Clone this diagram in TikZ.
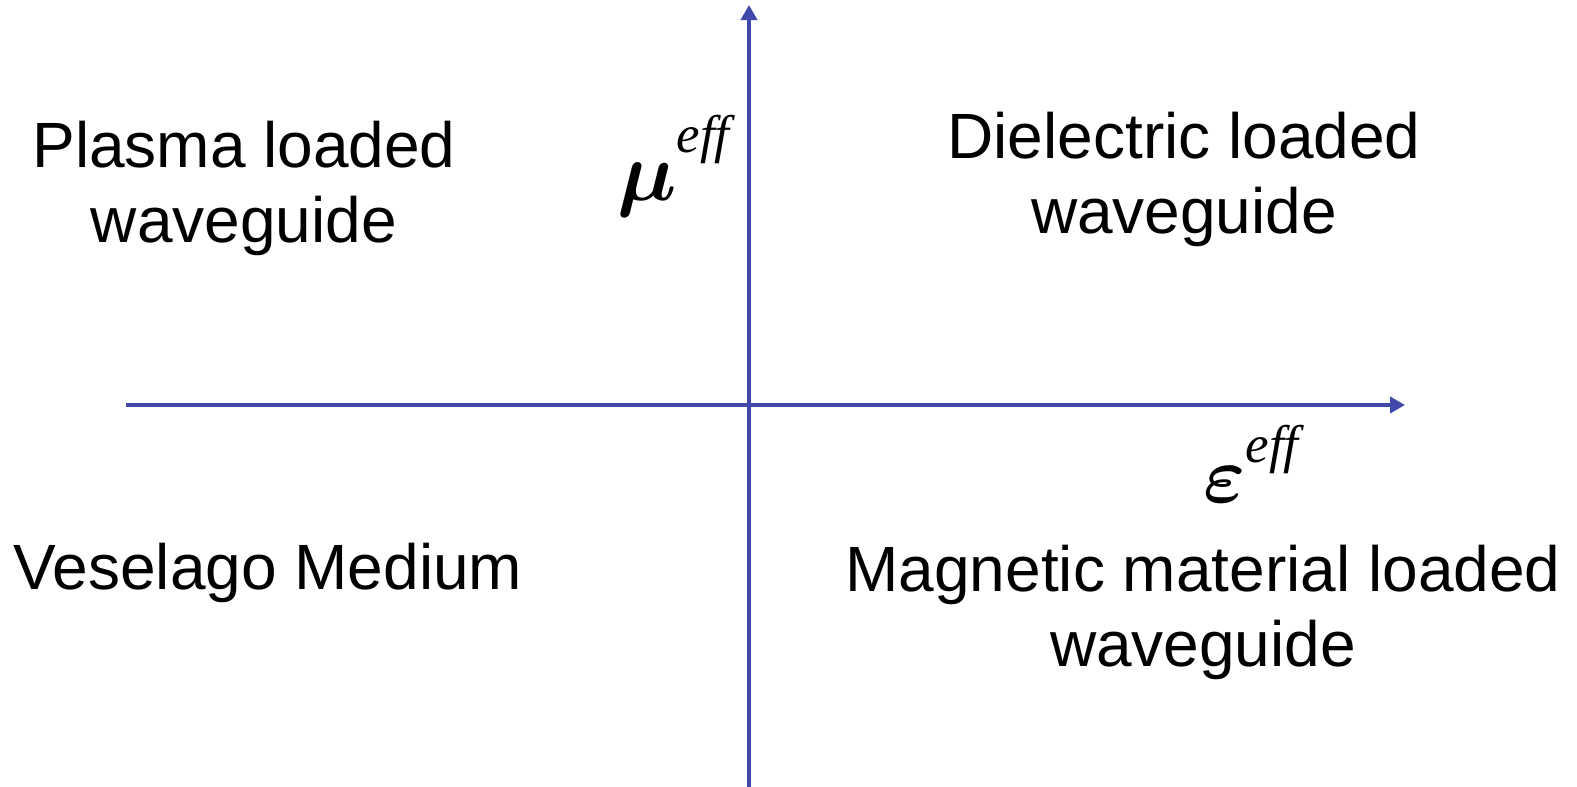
\documentclass[tikz,border=0pt]{standalone}
\usepackage{amsmath,bm}
\usepackage{fontspec}
\setmainfont{Liberation Sans}
\newfontfamily\symserif{Liberation Serif}
\usetikzlibrary{arrows.meta}
\definecolor{axisblue}{RGB}{64,72,170}
\tikzset{
  axis/.style={draw=axisblue, line width=4pt, -{Triangle[length=15pt,width=16pt]}},
  label/.style={inner sep=0pt, align=center, font=\fontsize{64}{75}\selectfont},
  sym/.style={inner sep=0pt, anchor=base west},
  supfont/.style={font=\symserif\fontsize{53}{53}\selectfont\itshape}
}
\begin{document}
\begin{tikzpicture}[x=1pt,y=-1pt]
\useasboundingbox[fill=white] (0,0) rectangle (1577,787);
\coordinate (vbot) at (749,787);
\coordinate (vtop) at (749,5);
\coordinate (hleft) at (126,405);
\coordinate (hright) at (1405,405);
\draw[axis] (vbot) -- (vtop);
\draw[axis] (hleft) -- (hright);
\node[label] (plasma) at (244,188) {Plasma loaded\\waveguide};
\node[label] (diel) at (1184,179) {Dielectric loaded\\waveguide};
\node[label] (vese) at (268,573) {Veselago Medium};
\node[label] (magn) at (1203,612) {Magnetic material loaded\\waveguide};
\node[sym] (mu) at (617,200) {\scalebox{8.4}{$\bm{\mu}$}\raisebox{48pt}{\symserif\fontsize{53}{53}\selectfont\itshape eff}};
\node[sym] (eps) at (1203,502) {\scalebox{8.0}{$\bm{\varepsilon}$}\raisebox{40pt}{\symserif\fontsize{53}{53}\selectfont\itshape eff}};
\end{tikzpicture}
\end{document}
